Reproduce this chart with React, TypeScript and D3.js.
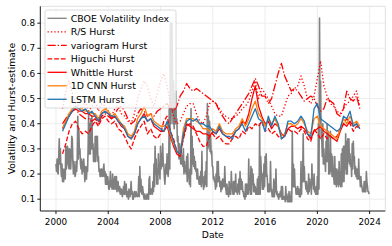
import React from 'react';
import * as d3 from 'd3';

const W = 392;
const H = 246;
const plot = { left: 40.3, right: 385.3, top: 6.3, bottom: 211 };

const xTicks = [2000, 2004, 2008, 2012, 2016, 2020, 2024];
const yTicks = [0.1, 0.2, 0.3, 0.4, 0.5, 0.6, 0.7, 0.8];

// CBOE VIX in index points, two readings per month (start / middle), one row per year 2000..2023
const vixStartYear = 2000;
const vixMonthly = [
  [24, 21, 26, 21, 20, 27, 34, 24, 30, 23, 19, 24, 17, 22, 17, 20, 22, 18, 31, 22, 24, 31, 30, 24],
  [22, 30, 29, 22, 27, 35, 34, 25, 20, 25, 22, 19, 20, 25, 21, 26, 43, 26, 38, 28, 30, 24, 22, 26],
  [20, 25, 21, 26, 22, 17, 23, 19, 18, 23, 21, 30, 45, 28, 40, 28, 42, 30, 43, 30, 32, 25, 30, 25],
  [35, 25, 29, 35, 35, 25, 27, 21, 22, 19, 19, 22, 22, 19, 19, 22, 24, 19, 21, 16, 20, 16, 16, 19],
  [17, 14, 14, 17, 21, 15, 17, 14, 20, 15, 14, 17, 19, 14, 15, 19, 13, 15, 17, 14, 13, 15, 12, 14],
  [14, 12, 11, 13, 15, 12, 17, 12, 13, 16, 11, 13, 12, 10, 14, 11, 11, 13, 17, 12, 13, 10, 10, 12],
  [13, 11, 11, 13, 12, 11, 11, 12, 19, 11, 23, 13, 18, 13, 12, 15, 13, 11, 10, 12, 11, 10, 10, 12],
  [12, 10, 10, 18, 19, 12, 12, 14, 14, 12, 17, 13, 24, 15, 31, 20, 26, 16, 22, 16, 28, 20, 24, 18],
  [31, 22, 28, 23, 32, 24, 24, 19, 16, 20, 24, 20, 28, 22, 19, 23, 46, 22, 80, 40, 50, 80, 58, 40],
  [57, 38, 52, 40, 53, 40, 42, 33, 35, 28, 26, 32, 30, 24, 29, 24, 27, 23, 30, 20, 25, 21, 23, 20],
  [27, 17, 28, 19, 19, 16, 22, 15, 46, 20, 35, 24, 30, 23, 27, 22, 25, 21, 22, 18, 22, 18, 18, 16],
  [19, 16, 21, 15, 29, 17, 17, 14, 19, 15, 21, 16, 25, 15, 48, 30, 43, 31, 41, 29, 35, 28, 29, 23],
  [23, 18, 19, 17, 17, 14, 20, 15, 25, 17, 25, 17, 19, 15, 17, 13, 17, 14, 18, 15, 18, 15, 23, 16],
  [14, 12, 16, 12, 14, 11, 17, 12, 16, 12, 21, 15, 15, 12, 17, 12, 17, 13, 20, 13, 14, 12, 16, 13],
  [18, 12, 21, 14, 18, 14, 17, 13, 13, 11, 12, 10, 16, 11, 16, 12, 16, 12, 26, 14, 14, 12, 23, 12],
  [22, 16, 20, 13, 16, 13, 15, 12, 14, 12, 18, 12, 19, 12, 40, 12, 27, 21, 20, 14, 20, 14, 24, 15],
  [27, 19, 28, 20, 19, 13, 16, 13, 16, 13, 25, 14, 14, 11, 13, 11, 18, 11, 17, 13, 22, 12, 13, 11],
  [12, 10, 12, 11, 13, 11, 15, 10, 15, 10, 11, 10, 11, 9, 15, 10, 12, 9, 11, 9, 13, 9, 11, 9],
  [13, 9, 37, 15, 24, 15, 22, 15, 15, 12, 14, 12, 15, 12, 14, 11, 14, 11, 25, 12, 21, 17, 36, 17],
  [23, 17, 17, 14, 17, 13, 14, 12, 20, 13, 18, 15, 16, 12, 24, 16, 18, 14, 20, 13, 13, 12, 15, 12],
  [19, 12, 40, 14, 82, 40, 57, 34, 35, 27, 40, 24, 30, 24, 26, 21, 33, 25, 40, 25, 37, 20, 25, 20],
  [37, 21, 28, 19, 27, 19, 19, 16, 27, 16, 22, 15, 22, 16, 21, 15, 25, 16, 20, 15, 28, 15, 30, 17],
  [31, 17, 31, 22, 36, 20, 33, 20, 34, 25, 34, 24, 28, 23, 25, 19, 32, 22, 33, 27, 27, 20, 23, 19],
  [22, 18, 22, 18, 26, 18, 19, 15, 19, 16, 15, 13, 14, 13, 17, 13, 17, 13, 21, 17, 15, 13, 13, 12],
];

// Hurst estimates, quarterly from mid-2000
const hurstStartYear = 2000.5;
const hurstStep = 0.25;

const hurstRS = [
  0.46, 0.53, 0.57, 0.52, 0.48, 0.47, 0.46, 0.49, 0.45, 0.47,
  0.49, 0.45, 0.48, 0.47, 0.45, 0.43, 0.46, 0.47, 0.44, 0.43,
  0.41, 0.40, 0.44, 0.50, 0.54, 0.57, 0.55, 0.50, 0.47, 0.52,
  0.57, 0.60, 0.55, 0.48, 0.43, 0.40, 0.41, 0.44, 0.47, 0.48,
  0.48, 0.44, 0.41, 0.40, 0.43, 0.48, 0.49, 0.48, 0.46, 0.44,
  0.43, 0.42, 0.42, 0.43, 0.44, 0.46, 0.47, 0.49, 0.53, 0.57,
  0.50, 0.54, 0.52, 0.50, 0.47, 0.44, 0.43, 0.43, 0.47, 0.51,
  0.52, 0.54, 0.55, 0.59, 0.55, 0.50, 0.48, 0.51, 0.58, 0.65,
  0.55, 0.51, 0.48, 0.47, 0.45, 0.44, 0.46, 0.48, 0.49, 0.51,
  0.53, 0.47,
];

const hurstVariogram = [
  0.40, 0.42, 0.44, 0.45, 0.46, 0.44, 0.43, 0.42, 0.42, 0.41,
  0.42, 0.40, 0.43, 0.44, 0.43, 0.42, 0.44, 0.46, 0.47, 0.45,
  0.42, 0.40, 0.41, 0.44, 0.46, 0.45, 0.43, 0.44, 0.43, 0.45,
  0.46, 0.47, 0.48, 0.46, 0.45, 0.47, 0.51, 0.53, 0.56, 0.54,
  0.53, 0.54, 0.53, 0.52, 0.51, 0.50, 0.49, 0.48, 0.45, 0.43,
  0.41, 0.40, 0.42, 0.44, 0.46, 0.48, 0.50, 0.52, 0.55, 0.58,
  0.55, 0.51, 0.51, 0.48, 0.50, 0.55, 0.60, 0.64, 0.59, 0.56,
  0.53, 0.54, 0.53, 0.51, 0.49, 0.50, 0.51, 0.50, 0.47, 0.45,
  0.46, 0.50, 0.49, 0.48, 0.44, 0.43, 0.46, 0.53, 0.50, 0.49,
  0.51, 0.46,
];

const hurstHiguchi = [
  0.28, 0.32, 0.37, 0.40, 0.41, 0.38, 0.36, 0.37, 0.36, 0.39,
  0.41, 0.39, 0.42, 0.43, 0.41, 0.40, 0.41, 0.38, 0.37, 0.35,
  0.32, 0.30, 0.34, 0.37, 0.39, 0.41, 0.36, 0.38, 0.35, 0.34,
  0.36, 0.41, 0.43, 0.37, 0.34, 0.29, 0.28, 0.34, 0.39, 0.40,
  0.39, 0.36, 0.33, 0.31, 0.31, 0.35, 0.36, 0.34, 0.35, 0.33,
  0.32, 0.32, 0.34, 0.35, 0.34, 0.37, 0.36, 0.39, 0.38, 0.40,
  0.39, 0.41, 0.37, 0.38, 0.36, 0.37, 0.35, 0.34, 0.35, 0.38,
  0.37, 0.37, 0.36, 0.38, 0.37, 0.34, 0.33, 0.38, 0.36, 0.34,
  0.36, 0.34, 0.35, 0.34, 0.35, 0.38, 0.40, 0.42, 0.40, 0.37,
  0.39, 0.38,
];

const hurstWhittle = [
  0.38, 0.41, 0.43, 0.45, 0.46, 0.45, 0.45, 0.44, 0.44, 0.43,
  0.43, 0.41, 0.44, 0.45, 0.44, 0.42, 0.43, 0.41, 0.39, 0.38,
  0.35, 0.34, 0.36, 0.40, 0.42, 0.44, 0.41, 0.42, 0.39, 0.38,
  0.37, 0.37, 0.39, 0.35, 0.31, 0.28, 0.27, 0.35, 0.40, 0.39,
  0.38, 0.37, 0.37, 0.36, 0.36, 0.35, 0.37, 0.36, 0.38, 0.36,
  0.35, 0.34, 0.35, 0.37, 0.38, 0.41, 0.40, 0.44, 0.50, 0.55,
  0.47, 0.43, 0.40, 0.41, 0.38, 0.40, 0.39, 0.36, 0.35, 0.38,
  0.39, 0.39, 0.38, 0.39, 0.38, 0.36, 0.34, 0.37, 0.38, 0.39,
  0.37, 0.36, 0.35, 0.34, 0.33, 0.37, 0.40, 0.39, 0.41, 0.39,
  0.40, 0.38,
];

const hurstCNN = [
  0.38, 0.41, 0.44, 0.46, 0.47, 0.46, 0.46, 0.45, 0.45, 0.44,
  0.44, 0.42, 0.45, 0.46, 0.45, 0.43, 0.44, 0.42, 0.40, 0.39,
  0.36, 0.35, 0.37, 0.42, 0.44, 0.47, 0.43, 0.44, 0.41, 0.40,
  0.39, 0.39, 0.40, 0.36, 0.32, 0.29, 0.28, 0.38, 0.42, 0.42,
  0.42, 0.41, 0.40, 0.38, 0.38, 0.37, 0.38, 0.37, 0.40, 0.37,
  0.36, 0.36, 0.36, 0.38, 0.39, 0.42, 0.39, 0.42, 0.46, 0.49,
  0.44, 0.42, 0.39, 0.42, 0.40, 0.42, 0.39, 0.35, 0.36, 0.40,
  0.40, 0.39, 0.40, 0.42, 0.40, 0.37, 0.36, 0.42, 0.43, 0.39,
  0.38, 0.37, 0.36, 0.35, 0.34, 0.38, 0.42, 0.40, 0.43, 0.40,
  0.41, 0.39,
];

const hurstLSTM = [
  0.37, 0.40, 0.43, 0.45, 0.47, 0.46, 0.45, 0.46, 0.44, 0.45,
  0.43, 0.41, 0.44, 0.45, 0.44, 0.43, 0.43, 0.41, 0.40, 0.38,
  0.35, 0.34, 0.36, 0.40, 0.42, 0.43, 0.41, 0.42, 0.40, 0.39,
  0.38, 0.37, 0.41, 0.37, 0.33, 0.29, 0.28, 0.36, 0.41, 0.42,
  0.41, 0.42, 0.40, 0.40, 0.39, 0.39, 0.37, 0.36, 0.39, 0.36,
  0.35, 0.35, 0.34, 0.37, 0.38, 0.40, 0.37, 0.40, 0.43, 0.46,
  0.42, 0.41, 0.37, 0.43, 0.39, 0.43, 0.40, 0.34, 0.35, 0.41,
  0.41, 0.40, 0.41, 0.43, 0.41, 0.36, 0.35, 0.46, 0.48, 0.42,
  0.41, 0.40, 0.39, 0.38, 0.37, 0.38, 0.43, 0.42, 0.45, 0.39,
  0.40, 0.38,
];

type Pt = [number, number];

const vixSeries: Pt[] = vixMonthly.flatMap((row, r) =>
  row.map((v, k) => [vixStartYear + r + k / 24, v / 100] as Pt)
);
const toHurst = (vals: number[]): Pt[] =>
  vals.map((v, i) => [hurstStartYear + i * hurstStep, v] as Pt);

const series = [
  { label: 'CBOE Volatility Index', color: '#808080', dash: '', width: 1.6, data: vixSeries },
  { label: 'R/S Hurst', color: '#ff0000', dash: '1.3,2.1', width: 1.3, data: toHurst(hurstRS) },
  { label: 'variogram Hurst', color: '#ff0000', dash: '8.2,2,1.3,2', width: 1.3, data: toHurst(hurstVariogram) },
  { label: 'Higuchi Hurst', color: '#ff0000', dash: '4.7,2', width: 1.3, data: toHurst(hurstHiguchi) },
  { label: 'Whittle Hurst', color: '#ff0000', dash: '', width: 1.3, data: toHurst(hurstWhittle) },
  { label: '1D CNN Hurst', color: '#ff7f0e', dash: '', width: 1.3, data: toHurst(hurstCNN) },
  { label: 'LSTM Hurst', color: '#1f77b4', dash: '', width: 1.3, data: toHurst(hurstLSTM) },
];

const font = 'DejaVu Sans, sans-serif';

export default function App() {
  const x = d3.scaleLinear().domain([1998.8, 2025.2]).range([plot.left, plot.right]);
  const y = d3.scaleLinear().domain([0.053, 0.867]).range([plot.bottom, plot.top]);
  const line = d3.line<Pt>().x(d => x(d[0])).y(d => y(d[1]));

  const leg = { x: 45, y: 10, w: 131, h: 98, row: 13.5 };

  return (
    <svg width={W} height={H} style={{ position: 'absolute', left: 0, top: 0, background: '#fff' }}
      fontFamily={font}>
      <defs>
        <clipPath id="plotclip">
          <rect x={plot.left} y={plot.top} width={plot.right - plot.left} height={plot.bottom - plot.top} />
        </clipPath>
      </defs>
      <rect width={W} height={H} fill="#fff" />

      {/* grid */}
      {xTicks.map(t => (
        <line key={'gx' + t} x1={x(t)} x2={x(t)} y1={plot.top} y2={plot.bottom} stroke="#ebebeb" strokeWidth={0.9} />
      ))}
      {yTicks.map(t => (
        <line key={'gy' + t} x1={plot.left} x2={plot.right} y1={y(t)} y2={y(t)} stroke="#ebebeb" strokeWidth={0.9} />
      ))}

      {/* series */}
      <g clipPath="url(#plotclip)">
        {series.map(s => (
          <path key={s.label} d={line(s.data) || ''} fill="none" stroke={s.color}
            strokeWidth={s.width} strokeDasharray={s.dash || undefined} strokeLinejoin="round" />
        ))}
      </g>

      {/* spines */}
      <line x1={plot.left} x2={plot.right} y1={plot.top} y2={plot.top} stroke="#dddddd" strokeWidth={0.9} />
      <line x1={plot.right} x2={plot.right} y1={plot.top} y2={plot.bottom} stroke="#dddddd" strokeWidth={0.9} />
      <line x1={plot.left} x2={plot.left} y1={plot.top} y2={plot.bottom} stroke="#000" strokeWidth={0.9} />
      <line x1={plot.left} x2={plot.right} y1={plot.bottom} y2={plot.bottom} stroke="#000" strokeWidth={0.9} />

      {/* ticks */}
      {xTicks.map(t => (
        <g key={'tx' + t}>
          <line x1={x(t)} x2={x(t)} y1={plot.bottom} y2={plot.bottom + 3} stroke="#000" strokeWidth={0.9} />
          <text x={x(t)} y={225} fontSize={8.8} textAnchor="middle" fill="#000">{t}</text>
        </g>
      ))}
      {yTicks.map(t => (
        <g key={'ty' + t}>
          <line x1={plot.left - 3} x2={plot.left} y1={y(t)} y2={y(t)} stroke="#000" strokeWidth={0.9} />
          <text x={35} y={y(t)} dy="0.35em" fontSize={8.8} textAnchor="end" fill="#000">{t.toFixed(1)}</text>
        </g>
      ))}

      <text x={(plot.left + plot.right) / 2} y={237.5} fontSize={9.2} textAnchor="middle">Date</text>
      <text transform={`translate(15,${(plot.top + plot.bottom) / 2}) rotate(-90)`} fontSize={9.2}
        textAnchor="middle">Volatility and Hurst-estimate</text>

      {/* legend */}
      <rect x={leg.x} y={leg.y} width={leg.w} height={leg.h} rx={2} fill="#fff" fillOpacity={0.8}
        stroke="#cccccc" strokeOpacity={0.8} strokeWidth={0.9} />
      {series.map((s, i) => {
        const cy = leg.y + 8.3 + i * leg.row;
        return (
          <g key={'lg' + s.label}>
            <line x1={47.5} x2={66.7} y1={cy} y2={cy} stroke={s.color} strokeWidth={1.3}
              strokeDasharray={s.dash || undefined} />
            <text x={70.7} y={cy} dy="0.35em" fontSize={9.4} fill="#000">{s.label}</text>
          </g>
        );
      })}
    </svg>
  );
}
